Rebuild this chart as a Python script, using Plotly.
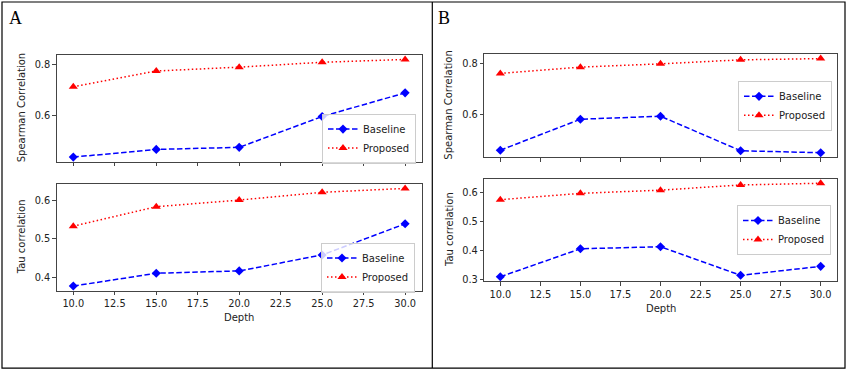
import plotly.graph_objects as go

# ---------------- data ----------------
depth = [10, 15, 20, 25, 30]
xtick_vals = [10, 12.5, 15, 17.5, 20, 22.5, 25, 27.5, 30]
xtick_text = ["10.0", "12.5", "15.0", "17.5", "20.0", "22.5", "25.0", "27.5", "30.0"]

a_spear_base = [0.440, 0.470, 0.478, 0.598, 0.690]
a_spear_prop = [0.714, 0.775, 0.790, 0.809, 0.820]
a_tau_base = [0.379, 0.412, 0.418, 0.459, 0.539]
a_tau_prop = [0.533, 0.583, 0.600, 0.620, 0.630]

b_spear_base = [0.457, 0.580, 0.592, 0.455, 0.447]
b_spear_prop = [0.762, 0.787, 0.800, 0.816, 0.821]
b_tau_base = [0.308, 0.405, 0.412, 0.313, 0.344]
b_tau_prop = [0.575, 0.597, 0.608, 0.626, 0.632]

spear_ticks = [0.6, 0.8]
tau_ticks_a = [0.4, 0.5, 0.6]
tau_ticks_b = [0.3, 0.4, 0.5, 0.6]

series_names = ["Baseline", "Proposed"]
panel_letters = ["A", "B"]
ylabels = ["Spearman Correlation", "Tau correlation"]
xlabel = "Depth"

# ---------------- layout geometry (pixels) ----------------
W, H = 849, 376
FONT = "DejaVu Sans"
TXT = "#222222"


def xdom(a, b):
    return [a / W, b / W]


def ydom(top, bottom):
    return [1 - bottom / H, 1 - top / H]


def yrange(*arrs):
    vals = [v for a in arrs for v in a]
    lo, hi = min(vals), max(vals)
    pad = 0.05 * (hi - lo)
    return [lo - pad, hi + pad]


panels = [
    dict(base=a_spear_base, prop=a_spear_prop, xp=(56.7, 421.7), yp=(55, 163.3),
         yt=spear_ticks, yl=ylabels[0], xlab=False, leg=(416, 139.7), ytitle_x=21),
    dict(base=a_tau_base, prop=a_tau_prop, xp=(56.7, 421.7), yp=(185, 293.3),
         yt=tau_ticks_a, yl=ylabels[1], xlab=True, leg=(415, 269.7), ytitle_x=21),
    dict(base=b_spear_base, prop=b_spear_prop, xp=(484.3, 836.7), yp=(54.3, 158.7),
         yt=spear_ticks, yl=ylabels[0], xlab=False, leg=(832, 106.7), ytitle_x=449),
    dict(base=b_tau_base, prop=b_tau_prop, xp=(484.3, 836.7), yp=(180, 283.7),
         yt=tau_ticks_b, yl=ylabels[1], xlab=True, leg=(831, 231.8), ytitle_x=449),
]

fig = go.Figure()
annotations = []
layout_extra = {}

for i, p in enumerate(panels):
    n = "" if i == 0 else str(i + 1)
    xa, ya = "x" + n, "y" + n
    leg = "legend" + n
    fig.add_trace(go.Scatter(
        x=depth, y=p["base"], name=series_names[0], xaxis=xa, yaxis=ya, legend=leg,
        mode="lines+markers",
        line=dict(color="#0000ff", width=1.5, dash="5.5px,2.5px"),
        marker=dict(symbol="diamond", size=7, color="#0000ff"),
    ))
    fig.add_trace(go.Scatter(
        x=depth, y=p["prop"], name=series_names[1], xaxis=xa, yaxis=ya, legend=leg,
        mode="lines+markers",
        line=dict(color="#ff0000", width=1.5, dash="1.5px,2.5px"),
        marker=dict(symbol="triangle-up", size=8, color="#ff0000"),
    ))
    axis_common = dict(
        showline=True, mirror=True, linecolor="#444444", linewidth=1,
        showgrid=False, zeroline=False, ticks="outside", ticklen=3.5,
        tickwidth=0.8, tickcolor="#444444",
        tickfont=dict(family=FONT, size=9.8, color=TXT),
    )
    layout_extra["xaxis" + n] = dict(
        axis_common, domain=xdom(*p["xp"]), range=[9, 31], anchor=ya,
        tickmode="array", tickvals=xtick_vals, ticktext=xtick_text,
        showticklabels=p["xlab"],
    )
    layout_extra["yaxis" + n] = dict(
        axis_common, domain=ydom(*p["yp"]), range=yrange(p["base"], p["prop"]),
        anchor=xa, tickmode="array", tickvals=p["yt"],
        ticktext=["%.1f" % v for v in p["yt"]],
    )
    layout_extra[leg] = dict(
        x=p["leg"][0] / W, y=1 - p["leg"][1] / H, xanchor="right", yanchor="middle",
        bgcolor="rgba(255,255,255,0.8)", bordercolor="#cccccc", borderwidth=1,
        font=dict(family=FONT, size=10, color=TXT), itemwidth=30,
        tracegroupgap=0,
    )
    ymid = (p["yp"][0] + p["yp"][1]) / 2
    annotations.append(dict(
        text=p["yl"], x=p["ytitle_x"] / W, y=1 - ymid / H, xref="paper", yref="paper",
        showarrow=False, textangle=-90, xanchor="center", yanchor="middle",
        font=dict(family=FONT, size=10, color=TXT),
    ))
    if p["xlab"]:
        xmid = (p["xp"][0] + p["xp"][1]) / 2
        annotations.append(dict(
            text=xlabel, x=xmid / W, y=1 - (p["yp"][1] + 27) / H, xref="paper", yref="paper",
            showarrow=False, xanchor="center", yanchor="middle",
            font=dict(family=FONT, size=10, color=TXT),
        ))

for letter, px in zip(panel_letters, [7, 436]):
    annotations.append(dict(
        text=letter, x=px / W, y=1 - 18.5 / H, xref="paper", yref="paper",
        showarrow=False, xanchor="left", yanchor="middle",
        font=dict(family="Liberation Serif", size=18, color="#000000"),
    ))

shapes = [
    dict(type="rect", xref="paper", yref="paper", x0=2 / W, x1=845 / W,
         y0=1 - 371 / H, y1=1 - 2 / H, line=dict(color="#000000", width=1.2)),
    dict(type="line", xref="paper", yref="paper", x0=432.3 / W, x1=432.3 / W,
         y0=1 - 371 / H, y1=1 - 2 / H, line=dict(color="#000000", width=1.2)),
]

fig.update_layout(
    width=W, height=H, margin=dict(l=0, r=0, t=0, b=0),
    paper_bgcolor="white", plot_bgcolor="white",
    showlegend=True, annotations=annotations, shapes=shapes,
    font=dict(family=FONT, color=TXT),
    **layout_extra,
)

fig.write_html(
    "out.html",
    config={"displayModeBar": False},
    post_script="document.body.style.margin='0';document.body.style.overflow='hidden';",
)
